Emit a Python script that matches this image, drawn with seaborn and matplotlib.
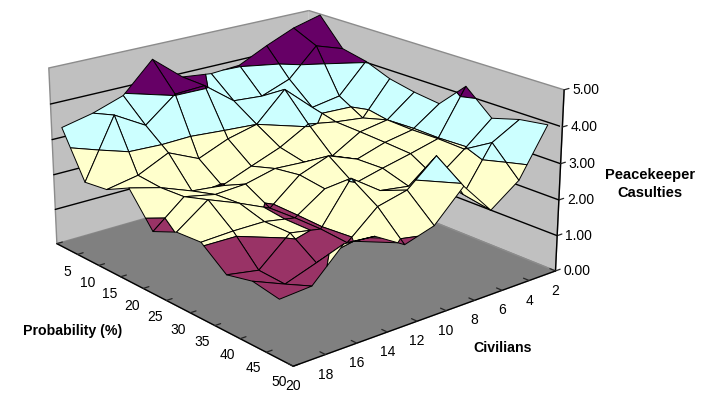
"""Peacekeeper casualties surface, probability against civilians."""

import numpy as np
import matplotlib

matplotlib.use("Agg")

import matplotlib.pyplot as plt
import seaborn as sns
from mpl_toolkits.mplot3d import proj3d
from mpl_toolkits.mplot3d.art3d import Poly3DCollection

probability = [5, 10, 15, 20, 25, 30, 35, 40, 45, 50]
civilians = [20, 18, 16, 14, 12, 10, 8, 6, 4, 2]
z_ticks = [0, 1, 2, 3, 4, 5]
band_colors = ["#9999FF", "#993366", "#FFFFCC", "#CCFFFF", "#660066"]

# one list per probability, civilians running 20 down to 2
p05 = [3.47, 3.66, 3.95, 4.78, 4.08, 3.98, 4.03, 4.42, 4.76, 4.97]
p10 = [2.21, 3.86, 3.36, 4.03, 4.07, 3.43, 3.36, 3.66, 4.45, 4.18]
p15 = [2.29, 2.45, 2.85, 2.46, 2.80, 3.00, 3.80, 3.07, 3.20, 4.03]
p20 = [2.62, 2.39, 2.06, 1.97, 2.29, 2.60, 3.05, 2.90, 2.80, 3.75]
p25 = [1.73, 2.43, 2.25, 2.30, 2.50, 2.45, 2.40, 2.87, 3.00, 3.60]
p30 = [2.02, 2.64, 2.30, 1.92, 2.60, 2.90, 2.58, 2.83, 2.97, 3.51]
p35 = [2.06, 2.10, 2.10, 1.95, 2.50, 2.40, 2.60, 2.78, 2.98, 4.25]
p40 = [1.52, 1.37, 2.10, 1.95, 3.07, 2.50, 2.38, 2.36, 2.95, 3.60]
p45 = [1.68, 1.33, 1.62, 1.89, 2.60, 2.80, 3.49, 2.20, 3.40, 3.82]
p50 = [1.55, 1.61, 2.43, 2.37, 1.89, 2.14, 2.95, 2.06, 2.64, 3.93]
casualties = np.array([p05, p10, p15, p20, p25, p30, p35, p40, p45, p50])


def clip_to_band(polygon, low, high):
    """Cuts a 3D polygon down to the part between two heights."""
    for limit, sign in ((low, 1), (high, -1)):
        kept = []
        for start, end in zip(polygon, polygon[1:] + polygon[:1]):
            start_in = sign * (start[2] - limit) >= 0
            end_in = sign * (end[2] - limit) >= 0
            if start_in:
                kept.append(start)
            if start_in != end_in:
                t = (limit - start[2]) / (end[2] - start[2])
                kept.append(tuple(a + t * (b - a) for a, b in zip(start, end)))
        polygon = kept
        if not polygon:
            break
    return polygon


def label_at(ax, x, y, z, text, dx=0, dy=0, ha="center"):
    """Writes a label next to a 3D point, shifted by screen pixels."""
    x2, y2, _ = proj3d.proj_transform(x, y, z, ax.get_proj())
    ax.annotate(text, (x2, y2), xytext=(dx * 0.72, dy * 0.72), textcoords="offset points",
                fontsize=10, color="black", ha=ha, va="center", annotation_clip=False)


sns.set_theme(style="ticks")
plt.rcParams["font.family"] = ["Liberation Sans", "DejaVu Sans"]

fig = plt.figure(figsize=(7.14, 4.13), dpi=100)
size = 1.283
ax = fig.add_axes(
    [0.41276 - size / 2 * 413 / 714, 0.57263 - size / 2, size * 413 / 714, size],
    projection="3d",
)
ax.patch.set_alpha(0)
fig.patch.set_facecolor("white")
ax.computed_zorder = False

ax.view_init(elev=19.796, azim=-40.049)
ax.set_proj_type("persp", focal_length=0.6804)
ax.set_box_aspect((1, 0.8933, 0.4964))
ax.set_xlim(2.5, 52.5, view_margin=0)
ax.set_ylim(20, 2, view_margin=0)
ax.set_zlim(0, 5, view_margin=0)

fragments, colors = [], []
for i in range(len(probability) - 1):
    for j in range(len(civilians) - 1):
        quad = [
            (probability[a], civilians[b], casualties[a, b])
            for a, b in ((i, j), (i + 1, j), (i + 1, j + 1), (i, j + 1))
        ]
        for band, color in enumerate(band_colors):
            piece = clip_to_band(quad, z_ticks[band], z_ticks[band + 1])
            if len(piece) >= 3:
                fragments.append(piece)
                colors.append(color)

surface = Poly3DCollection(fragments, facecolors=colors, edgecolors="black", linewidths=0.7, zorder=3)
ax.add_collection3d(surface)

# panes and axes
ax.xaxis.set_pane_color("#C0C0C0")
ax.yaxis.set_pane_color("#C0C0C0")
ax.zaxis.set_pane_color("#808080")
for axis in (ax.xaxis, ax.yaxis, ax.zaxis):
    axis.pane.set_edgecolor("#8C8C8C")
    axis.line.set_color("black")
    axis.line.set_linewidth(1.0)
    axis._axinfo["tick"]["inward_factor"] = 0.0
    axis._axinfo["tick"]["outward_factor"] = 0.25
    axis._axinfo["tick"]["linewidth"] = {True: 0.9, False: 0.5}
    axis._axinfo["tick"]["color"] = "black"
ax.grid(False)

# wall lines only at the inner heights, the top and bottom stay bare
for level in z_ticks[1:-1]:
    ax.plot([probability[0] - 2.5, probability[0] - 2.5, probability[-1] + 2.5],
            [civilians[0], civilians[-1], civilians[-1]], [level, level, level],
            color="black", linewidth=1.0, zorder=2)

# probability sits between its ticks, civilians on them
ax.set_xticks(np.arange(2.5, 53, 5), labels=[""] * 11)
ax.set_yticks(civilians, labels=[""] * len(civilians))
ax.set_zticks(z_ticks, labels=[""] * len(z_ticks))
ax.zaxis.set_ticks_position("lower")

for value in probability:
    label_at(ax, value, civilians[0], 0, str(value), dy=-23)
for value in civilians:
    label_at(ax, probability[-1] + 2.5, value, 0, str(value), dy=-20)
for value in z_ticks:
    label_at(ax, probability[-1] + 2.5, civilians[-1], value, f"{value:.2f}", dx=8, ha="left")

fig.text(73 / 714, 1 - 331 / 413, "Probability (%)", fontsize=10.2, fontweight="bold",
         color="black", ha="center", va="center")
fig.text(503 / 714, 1 - 348 / 413, "Civilians", fontsize=10.2, fontweight="bold",
         color="black", ha="center", va="center")
fig.text(650 / 714, 1 - 184 / 413, "Peacekeeper\nCasulties", fontsize=10.5, fontweight="bold",
         color="black", ha="center", va="center", linespacing=1.35)

fig.savefig("out.png", dpi=100)
